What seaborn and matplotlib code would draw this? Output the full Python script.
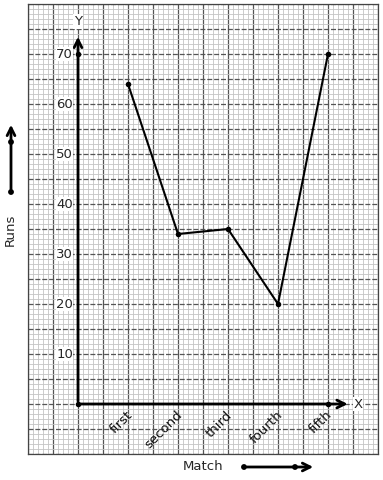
import numpy as np
import pandas as pd
import matplotlib
matplotlib.use("Agg")
import matplotlib.pyplot as plt
from matplotlib.ticker import MultipleLocator
import seaborn as sns

matches = ["first", "second", "third", "fourth", "fifth"]
runs = [64, 34, 35, 20, 70]
yticks = [10, 20, 30, 40, 50, 60, 70]

df = pd.DataFrame({"Match": matches, "Runs": runs})
df["pos"] = np.arange(1, len(matches) + 1)

sns.set_style("white")
plt.rcParams["font.family"] = ["DejaVu Sans"]

fig = plt.figure(figsize=(3.83, 4.8), dpi=100)
ax = fig.add_axes([28 / 383, 26 / 480, 350 / 383, 450 / 480])

ax.set_xlim(-1, 6)
ax.set_ylim(-10, 80)

# graph paper
ax.xaxis.set_major_locator(MultipleLocator(0.5))
ax.xaxis.set_minor_locator(MultipleLocator(0.1))
ax.yaxis.set_major_locator(MultipleLocator(5))
ax.yaxis.set_minor_locator(MultipleLocator(1))
ax.grid(which="minor", color="#c4c4c4", lw=0.6)
ax.xaxis.grid(which="major", color="#555555", lw=0.9, ls="-")
ax.yaxis.grid(which="major", color="#555555", lw=0.9, ls=(0, (4, 1.5)))
ax.set_axisbelow(True)
ax.tick_params(which="both", length=0, labelbottom=False, labelleft=False)
for s in ax.spines.values():
    s.set_color("#444444")
    s.set_linewidth(0.9)

sns.lineplot(data=df, x="pos", y="Runs", color="black", marker="o",
             markersize=4, markeredgewidth=0, lw=1.5, ax=ax)
ax.set_xlabel("")
ax.set_ylabel("")

# axes with arrows
ax.annotate("", xy=(0, 74), xytext=(0, 0),
            arrowprops=dict(arrowstyle="->", lw=2, color="black", mutation_scale=14))
ax.annotate("", xy=(5.45, 0), xytext=(0, 0),
            arrowprops=dict(arrowstyle="->", lw=2, color="black", mutation_scale=14))
ax.plot([0, 0, 5], [0, 70, 0], "o", color="black", ms=4, mew=0)
ax.text(0, 76.5, "Y", ha="center", va="center", fontsize=9.5,
        bbox=dict(fc="white", ec="none", pad=0.5))
ax.text(5.6, 0, "X", ha="center", va="center", fontsize=9.5,
        bbox=dict(fc="white", ec="none", pad=0.5))

for v in yticks:
    ax.text(-0.1, v, str(v), ha="right", va="center", fontsize=9.5,
            bbox=dict(fc="white", ec="none", pad=0.3))

for p, m in zip(df["pos"], df["Match"]):
    ax.text(p + 0.14, -0.9, m, rotation=45, ha="right", va="top", fontsize=9.5,
            color="#111111")

# axis titles with arrows
fig.text(10 / 383, 1 - 230 / 480, "Runs", rotation=90, ha="center", va="center",
         fontsize=9.5)
fig.text(203 / 383, 1 - 466 / 480, "Match", ha="center", va="center", fontsize=9.5)
ax.annotate("", xy=(11, 480 - 122), xytext=(11, 480 - 192), xycoords="figure pixels",
            textcoords="figure pixels", annotation_clip=False,
            arrowprops=dict(arrowstyle="->", lw=2, color="black", mutation_scale=14))
ax.annotate("", xy=(316, 480 - 467), xytext=(244, 480 - 467), xycoords="figure pixels",
            textcoords="figure pixels", annotation_clip=False,
            arrowprops=dict(arrowstyle="->", lw=2, color="black", mutation_scale=14))
for xy in [(11, 480 - 192), (11, 480 - 142), (244, 480 - 467), (295, 480 - 467)]:
    fig.add_artist(plt.Circle(xy, 2.2, transform=None, color="black"))

fig.savefig("out.png", dpi=100)
